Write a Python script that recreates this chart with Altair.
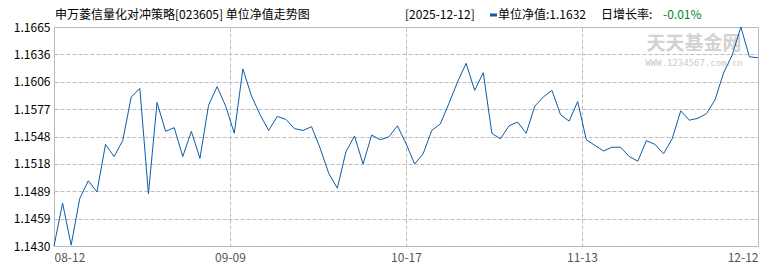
import altair as alt
import pandas as pd

dates = (
    ["2025-08-%02d" % d for d in [12, 13, 14, 15, 18, 19, 20, 21, 22, 25, 26, 27, 28, 29]]
    + ["2025-09-%02d" % d for d in [1, 2, 3, 4, 5, 8, 9, 10, 11, 12, 15, 16, 17, 18, 19, 22, 23, 24, 25, 26, 29, 30]]
    + ["2025-10-%02d" % d for d in [9, 10, 13, 14, 15, 16, 17, 20, 21, 22, 23, 24, 27, 28, 29, 30, 31]]
    + ["2025-11-%02d" % d for d in [3, 4, 5, 6, 7, 10, 11, 12, 13, 14, 17, 18, 19, 20, 21, 24, 25, 26, 27, 28]]
    + ["2025-12-%02d" % d for d in [1, 2, 3, 4, 5, 8, 9, 10, 11, 12]]
)

nav = [
    1.1430, 1.1476, 1.1431, 1.1481, 1.1500, 1.1488, 1.1539, 1.1526, 1.1543, 1.1590,
    1.1599, 1.1486, 1.1584, 1.1553, 1.1557, 1.1526, 1.1553, 1.1524, 1.1581, 1.1601,
    1.1580, 1.1551, 1.1620, 1.1591, 1.1571, 1.1554, 1.1569, 1.1566, 1.1556, 1.1554,
    1.1558, 1.1535, 1.1508, 1.1492, 1.1531, 1.1548, 1.1518, 1.1549, 1.1544, 1.1547,
    1.1559, 1.1540, 1.1518, 1.1529, 1.1554, 1.1561, 1.1583, 1.1606, 1.1626, 1.1597,
    1.1616, 1.1551, 1.1545, 1.1559, 1.1563, 1.1551, 1.1580, 1.1590, 1.1597, 1.1571,
    1.1564, 1.1585, 1.1544, 1.1538, 1.1532, 1.1536, 1.1536, 1.1526, 1.1521, 1.1543,
    1.1539, 1.1529, 1.1545, 1.1575, 1.1565, 1.1567, 1.1572, 1.1587, 1.1616, 1.1635,
    1.1665, 1.1633, 1.1632,
]

x_tick_labels = ["08-12", "09-09", "10-17", "11-13", "12-12"]
y_tick_labels = ["1.1430", "1.1459", "1.1489", "1.1518", "1.1548", "1.1577", "1.1606", "1.1636", "1.1665"]

fund_title = "申万菱信量化对冲策略[023605] 单位净值走势图"
series_name = "单位净值"
growth_name = "日增长率"

n = len(nav)
df = pd.DataFrame({"idx": list(range(n)), "date": dates, "nav": nav})

ymin, ymax = min(nav), max(nav)
ystep = (ymax - ymin) / (len(y_tick_labels) - 1)
y_ticks = [ymin + i * ystep for i in range(len(y_tick_labels))]
xstep = (n - 1) / (len(x_tick_labels) - 1)
x_ticks = [i * xstep for i in range(len(x_tick_labels))]

last = nav[-1]
pct = (nav[-1] / nav[-2] - 1) * 100
last_date = dates[-1]

FONT = "Noto Sans CJK SC"
BLUE = "#0c5caa"
GRID = "#bdbdbd"

y_label_expr = "[" + ",".join("'%s'" % s for s in y_tick_labels) + "][round((datum.value-%r)/%r)]" % (ymin, ystep)
x_label_expr = "[" + ",".join("'%s'" % s for s in x_tick_labels) + "][round(datum.value/%r)]" % xstep

line = alt.Chart(df).mark_line(color=BLUE, strokeWidth=1).encode(
    x=alt.X(
        "idx:Q",
        scale=alt.Scale(domain=[0, n - 1], nice=False, zero=False),
        axis=alt.Axis(
            values=x_ticks, labelExpr=x_label_expr, grid=True, gridDash=[4, 2], gridColor=GRID,
            ticks=False, domain=False, labelFlush=True, labelPadding=6, labelFont=FONT,
            labelFontSize=12, labelColor="#555555", title=None,
        ),
    ),
    y=alt.Y(
        "nav:Q",
        scale=alt.Scale(domain=[ymin, ymax], nice=False, zero=False),
        axis=alt.Axis(
            values=y_ticks, labelExpr=y_label_expr, grid=True, gridDash=[4, 2], gridColor=GRID,
            ticks=False, domain=False, labelPadding=4, labelFont=FONT, labelFontSize=12,
            labelColor="#000000", title=None,
        ),
    ),
)


def txt(s, x, y, color="#000000", size=12, align="left", weight="normal", font=FONT):
    return alt.Chart(pd.DataFrame({"t": [s]})).mark_text(
        align=align, baseline="middle", font=font, fontSize=size, color=color, fontWeight=weight
    ).encode(text="t:N", x=alt.value(x), y=alt.value(y))


wm1 = txt("天天基金网", 640, 17, color="#d2d2d2", size=19, align="center", weight="bold")
wm2 = txt("WWW.1234567.com.cn", 640, 36, color="#cacaca", size=9, align="center", font="DejaVu Sans Mono")

t1 = txt(fund_title, 1, -12)
t2 = txt("[" + last_date + "]", 351, -12)
marker = alt.Chart(pd.DataFrame({"a": [0]})).mark_rule(color=BLUE, strokeWidth=3).encode(
    x=alt.value(436), x2=alt.value(443), y=alt.value(-12)
)
t3 = txt("%s:%.4f" % (series_name, last), 444, -12)
t4 = txt("%s:" % growth_name, 547, -12)
t5 = txt("%.2f%%" % pct, 609, -12, color="#00852e")

chart = alt.layer(wm1, wm2, line, t1, t2, marker, t3, t4, t5).properties(
    width=704,
    height=219,
    padding={"left": 54, "top": 27, "right": 12, "bottom": 24},
    autosize=alt.AutoSizeParams(type="none"),
    background="white",
).configure_view(stroke="#b5b5b5", strokeWidth=1)

chart.save("out.html", embed_options={"renderer": "svg", "actions": False})
